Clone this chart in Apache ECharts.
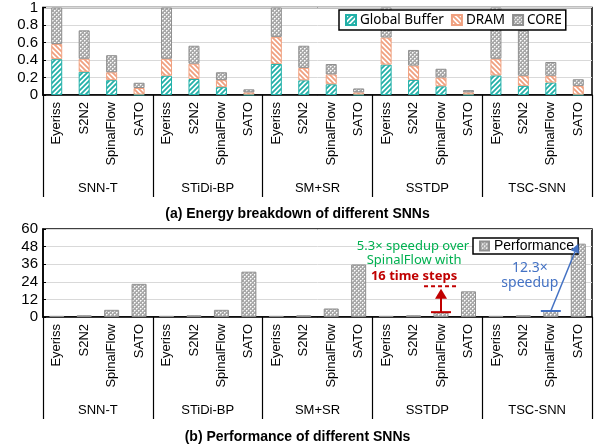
<!DOCTYPE html>
<html><head><meta charset="utf-8">
<script src="https://cdn.jsdelivr.net/npm/echarts@6/dist/echarts.min.js"></script>
<style>html,body{margin:0;padding:0;background:#fff}#c{width:595px;height:446px}</style>
</head><body><div id="c"></div>
<script>
// ---------- data ----------
const subCategories = ['Eyeriss', 'S2N2', 'SpinalFlow', 'SATO'];
const groups = ['SNN-T', 'STiDi-BP', 'SM+SR', 'SSTDP', 'TSC-SNN'];
const energyTicks = [0, 0.2, 0.4, 0.6, 0.8, 1];
const perfTicks = [0, 12, 24, 36, 48, 60];
// stacked segments (normalized energy)
const globalBuffer = [0.41, 0.265, 0.17, 0.005,  0.22, 0.183, 0.09, 0.005,  0.355, 0.168, 0.123, 0.005,  0.347, 0.172, 0.10, 0.005,  0.224, 0.104, 0.142, 0.004];
const dram         = [0.172, 0.149, 0.09, 0.075, 0.194, 0.175, 0.08, 0.025, 0.309, 0.142, 0.112, 0.025, 0.31, 0.164, 0.10, 0.025,  0.19, 0.116, 0.078, 0.10];
const core         = [0.418, 0.325, 0.195, 0.06, 0.586, 0.205, 0.09, 0.035, 0.336, 0.253, 0.119, 0.045, 0.343, 0.179, 0.10, 0.026, 0.586, 0.52, 0.157, 0.076];
const performance  = [0.8, 1.2, 4.9, 22.6,  0.8, 1.2, 4.9, 30.9,  0.8, 1.2, 5.8, 35.8,  0.8, 1.2, 3.3, 17.5,  0.8, 1.2, 4.1, 50];
const seriesNames = ['Global Buffer', 'DRAM', 'CORE'];

// ---------- patterns ----------
function stripePattern(color, forward) {
  const s = 5;
  const c = document.createElement('canvas'); c.width = s; c.height = s;
  const g = c.getContext('2d');
  g.fillStyle = '#fff'; g.fillRect(0, 0, s, s);
  g.strokeStyle = color; g.lineWidth = 1.8; g.beginPath();
  for (const k of [-s, 0, s, 2 * s]) {
    if (forward) { g.moveTo(-1, k + 1); g.lineTo(s + 1, k - s - 1); }
    else { g.moveTo(-1, k - 1); g.lineTo(s + 1, k + s + 1); }
  }
  g.stroke();
  return { image: c, repeat: 'repeat' };
}
function crossPattern() {
  const s = 4;
  const c = document.createElement('canvas'); c.width = s; c.height = s;
  const g = c.getContext('2d');
  g.fillStyle = '#a9a9a9'; g.fillRect(0, 0, s, s);
  g.fillStyle = '#ffffff';
  g.fillRect(0, 0, 1, 1); g.fillRect(2, 2, 1, 1);
  g.fillStyle = '#d8d8d8';
  g.fillRect(1, 0, 1, 1); g.fillRect(0, 1, 1, 1); g.fillRect(3, 2, 1, 1); g.fillRect(2, 3, 1, 1);
  return { image: c, repeat: 'repeat' };
}
const teal = '#22b0a8', salmon = '#f0a07f', gray = '#8f8f8f';
const fills = [stripePattern(teal, true), stripePattern(salmon, false), crossPattern()];
const borders = [teal, salmon, gray];
const segs = [globalBuffer, dram, core];

const allCats = groups.flatMap(() => subCategories);
const font = 'Liberation Sans, Arial, sans-serif';

function catAxis(gi) {
  return {
    type: 'category', gridIndex: gi, data: allCats, position: 'bottom',
    axisLine: { lineStyle: { color: '#000', width: 1.5 } },
    axisTick: { show: false },
    axisLabel: { interval: 0, rotate: 90, margin: 7, fontSize: 13, color: '#000', fontFamily: font }
  };
}
function groupAxis(gi) {
  return {
    type: 'category', gridIndex: gi, data: groups, position: 'bottom',
    axisLine: { show: false },
    axisTick: { show: true, interval: 0, length: 102, lineStyle: { color: '#000', width: 1.2 } },
    axisLabel: { interval: 0, margin: 87, fontSize: 13, color: '#000', fontFamily: font }
  };
}

const chart = echarts.init(document.getElementById('c'));
const option = {
  animation: false,
  backgroundColor: '#fff',
  title: [
    { text: '(a) Energy breakdown of different SNNs', left: 'center', top: 202,
      textStyle: { fontSize: 14, fontWeight: 'bold', color: '#000', fontFamily: font } },
    { text: '(b) Performance of different SNNs', left: 'center', top: 425,
      textStyle: { fontSize: 14, fontWeight: 'bold', color: '#000', fontFamily: font } }
  ],
  grid: [
    { left: 43, right: 3, top: 5, height: 90, show: true, borderColor: '#000', borderWidth: 1.5 },
    { left: 43, right: 3, top: 229, height: 88, show: true, borderColor: '#000', borderWidth: 1.5 }
  ],
  legend: [
    { data: seriesNames, left: 339, top: 10, width: 250, icon: 'rect', itemWidth: 10, itemHeight: 10, itemGap: 7,
      borderColor: '#000', borderWidth: 1.5, backgroundColor: '#fff', padding: [3, 4, 3, 6],
      textStyle: { fontSize: 13.5, color: '#000', fontFamily: 'Noto Sans, Open Sans, sans-serif', padding: [0, 0, 0, -1] } },
    { data: ['Performance'], left: 473, top: 238, icon: 'rect', itemWidth: 9, itemHeight: 9,
      borderColor: '#000', borderWidth: 1.5, backgroundColor: '#fff', padding: [1, 4, 1, 6],
      textStyle: { fontSize: 14, color: '#000', fontFamily: font } }
  ],
  xAxis: [catAxis(0), groupAxis(0), catAxis(1), groupAxis(1)],
  yAxis: [
    { type: 'value', gridIndex: 0, min: 0, max: 1, interval: 0.2,
      axisLine: { show: true, lineStyle: { color: '#000', width: 1.5 } },
      axisTick: { show: true, inside: true, length: 3, lineStyle: { color: '#000' } },
      axisLabel: { fontSize: 15, color: '#000', fontFamily: font, margin: 5,
        formatter: v => energyTicks.find(t => Math.abs(t - v) < 1e-9).toString() },
      splitLine: { lineStyle: { color: '#d9d9d9', width: 1 } } },
    { type: 'value', gridIndex: 1, min: 0, max: 60, interval: 12,
      axisLine: { show: true, lineStyle: { color: '#000', width: 1.5 } },
      axisTick: { show: true, inside: true, length: 3, lineStyle: { color: '#000' } },
      axisLabel: { fontSize: 15, color: '#000', fontFamily: font, margin: 5,
        formatter: v => String(perfTicks.find(t => Math.abs(t - v) < 1e-9)) },
      splitLine: { lineStyle: { color: '#d9d9d9', width: 1 } } }
  ],
  series: [
    ...seriesNames.map((n, i) => ({
      name: n, type: 'bar', stack: 'e', xAxisIndex: 0, yAxisIndex: 0, barWidth: 11,
      itemStyle: { color: fills[i], borderColor: borders[i], borderWidth: 1 },
      data: segs[i]
    })),
    { name: 'Performance', type: 'bar', xAxisIndex: 2, yAxisIndex: 1, barWidth: 15,
      itemStyle: { color: crossPattern(), borderColor: gray, borderWidth: 1 },
      data: performance }
  ]
};
chart.setOption(option);

// ---------- annotations anchored on data ----------
const px = (idx, v) => chart.convertToPixel({ xAxisIndex: 2, yAxisIndex: 1 }, [idx, v]);
const red = '#c00000', blue = '#4472c4', green = '#00b050';
const iSpSSTDP = 3 * 4 + 2, iSatoSSTDP = 3 * 4 + 3, iSpTSC = 4 * 4 + 2, iSatoTSC = 4 * 4 + 3;
const rb = px(iSpSSTDP, performance[iSpSSTDP]);
const rTop = px(iSpSSTDP, 19.2);
const rDash = px(iSpSSTDP, 21);
const bb = px(iSpTSC, performance[iSpTSC]);
const bt = px(iSatoTSC, performance[iSatoTSC]);
const ang = Math.atan2(bt[1] - bb[1], bt[0] - bb[0]);
const ah = 9, aw = 4.5;
const tip = bt, base = [tip[0] - ah * Math.cos(ang), tip[1] - ah * Math.sin(ang)];
const nx = -Math.sin(ang), ny = Math.cos(ang);
const annoFont = 'Noto Sans, Open Sans, sans-serif';

chart.setOption({
  graphic: [
    // red
    { type: 'line', shape: { x1: rb[0] - 10, y1: rb[1], x2: rb[0] + 10, y2: rb[1] }, style: { stroke: red, lineWidth: 2 }, z: 100 },
    { type: 'line', shape: { x1: rb[0], y1: rb[1], x2: rb[0], y2: rTop[1] + 8 }, style: { stroke: red, lineWidth: 2 }, z: 100 },
    { type: 'polygon', shape: { points: [[rb[0], rTop[1]], [rb[0] - 6, rTop[1] + 10], [rb[0] + 6, rTop[1] + 10]] }, style: { fill: red }, z: 100 },
    { type: 'line', shape: { x1: rb[0] - 17, y1: rDash[1], x2: rb[0] + 17, y2: rDash[1] }, style: { stroke: red, lineWidth: 2, lineDash: [4, 3] }, z: 100 },
    // blue
    { type: 'line', shape: { x1: bb[0] - 10, y1: bb[1], x2: bb[0] + 10, y2: bb[1] }, style: { stroke: blue, lineWidth: 2 }, z: 100 },
    { type: 'line', shape: { x1: bb[0], y1: bb[1], x2: base[0], y2: base[1] }, style: { stroke: blue, lineWidth: 1.5 }, z: 100 },
    { type: 'polygon', shape: { points: [tip, [base[0] + nx * aw, base[1] + ny * aw], [base[0] - nx * aw, base[1] - ny * aw]] }, style: { fill: blue }, z: 100 },
    // texts
    { type: 'text', x: rb[0] - 28, y: 246, z: 100, style: { text: '5.3× speedup over', fill: green, font: '13px ' + annoFont, align: 'center', verticalAlign: 'middle' } },
    { type: 'text', x: rb[0] - 27, y: 260, z: 100, style: { text: 'SpinalFlow with', fill: green, font: '13px ' + annoFont, align: 'center', verticalAlign: 'middle' } },
    { type: 'text', x: rb[0] - 27, y: 276, z: 100, style: { text: '16 time steps', fill: red, font: 'bold 13px ' + annoFont, align: 'center', verticalAlign: 'middle' } },
    { type: 'text', x: bb[0] - 21, y: 268, z: 100, style: { text: '12.3×', fill: blue, font: '14px ' + annoFont, align: 'center', verticalAlign: 'middle' } },
    { type: 'text', x: bb[0] - 21, y: 283, z: 100, style: { text: 'speedup', fill: blue, font: '14px ' + annoFont, align: 'center', verticalAlign: 'middle' } }
  ]
});
</script></body></html>
